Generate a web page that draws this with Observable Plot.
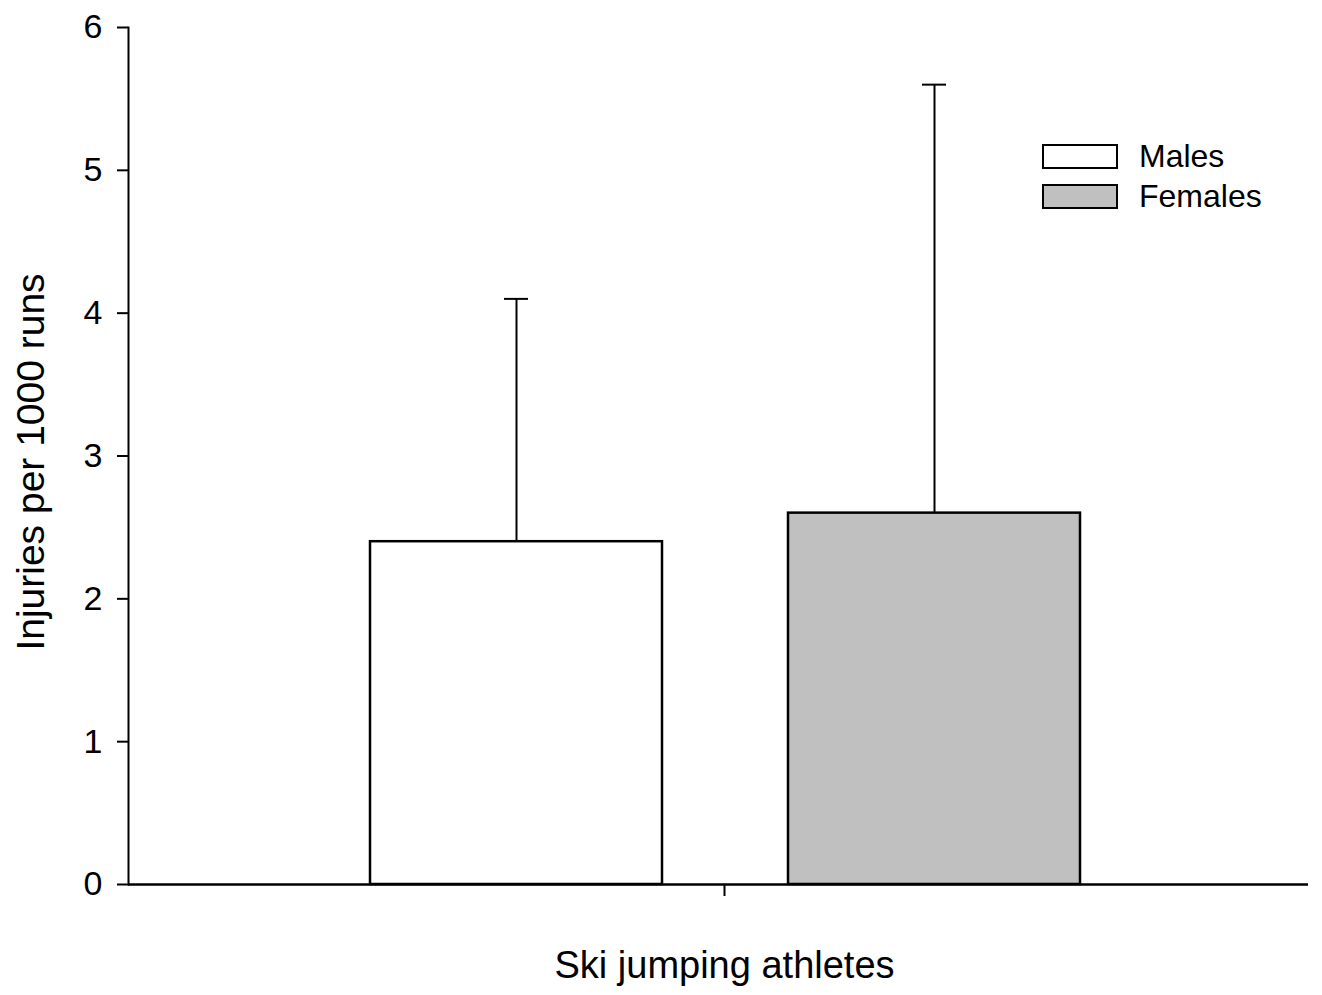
<!DOCTYPE html>
<html>
<head>
<meta charset="utf-8">
<script src="https://cdn.jsdelivr.net/npm/d3@7"></script>
<script src="https://cdn.jsdelivr.net/npm/@observablehq/plot@0.6"></script>
<style>
  html, body { margin: 0; padding: 0; background: #fff; }
  #wrap { position: relative; width: 1322px; height: 995px; font-family: "Liberation Sans", Arial, sans-serif; }
  #legend { position: absolute; left: 1042px; top: 136px; }
  .item { display: flex; align-items: center; height: 40px; font-size: 32px; color: #000; }
  .swatch { width: 72px; height: 21px; border: 2.5px solid #000; margin-right: 21px; }
</style>
</head>
<body>
<div id="wrap"></div>
<script>
const groups = ["Ski jumping athletes"];
const sexes = ["Males", "Females"];
const means = [2.4, 2.6];
const sds = [1.7, 3.0];
const yTicks = [0, 1, 2, 3, 4, 5, 6];
const fills = ["#ffffff", "#c0c0c0"];
const yLabel = "Injuries per 1000 runs";

const data = sexes.map((s, i) => ({group: groups[0], sex: s, value: means[i], upper: means[i] + sds[i]}));

const chart = Plot.plot({
  width: 1322,
  height: 995,
  marginLeft: 128,
  marginRight: 14,
  marginTop: 27,
  marginBottom: 111,
  style: {fontFamily: '"Liberation Sans", Arial, sans-serif', fontSize: "34px", color: "#000", background: "#fff"},
  fx: {domain: groups, padding: 0},
  x: {domain: sexes, paddingInner: 0.3014, paddingOuter: 0.562, align: 0.515, axis: null},
  y: {domain: [0, 6]},
  color: {domain: sexes, range: fills},
  marks: [
    Plot.barY(data, {fx: "group", x: "sex", y: "value", fill: "sex", stroke: "#000", strokeWidth: 2.5}),
    Plot.ruleX(data, {fx: "group", x: "sex", y1: "value", y2: "upper", stroke: "#000", strokeWidth: 2}),
    Plot.tickY(data, {fx: "group", x: "sex", y: "upper", insetLeft: 134, insetRight: 134, stroke: "#000", strokeWidth: 2}),
    Plot.ruleY([0], {stroke: "#000", strokeWidth: 2.5}),
    Plot.frame({anchor: "left", stroke: "#000", strokeWidth: 2}),
    Plot.axisY({ticks: yTicks, tickSize: 11, tickPadding: 15, fontSize: 34, label: null, strokeWidth: 2, tickFormat: d => String(d)}),
    Plot.axisFx({anchor: "bottom", tickSize: 12, tickFormat: () => "", label: null, dx: 6, strokeWidth: 2}),
    Plot.text([groups[0]], {frameAnchor: "bottom", lineAnchor: "middle", dy: 81, dx: 6, fontSize: 38, fill: "#000"}),
    Plot.text([yLabel], {frameAnchor: "left", textAnchor: "middle", lineAnchor: "middle", rotate: -90, dx: -97, dy: 6, fontSize: 39, fill: "#000"})
  ]
});

const wrap = document.getElementById("wrap");
wrap.appendChild(chart);
const legend = document.createElement("div");
legend.id = "legend";
sexes.forEach((s, i) => {
  const item = document.createElement("div");
  item.className = "item";
  const sw = document.createElement("div");
  sw.className = "swatch";
  sw.style.background = fills[i];
  const t = document.createElement("span");
  t.textContent = s;
  item.appendChild(sw);
  item.appendChild(t);
  legend.appendChild(item);
});
wrap.appendChild(legend);
</script>
</body>
</html>
